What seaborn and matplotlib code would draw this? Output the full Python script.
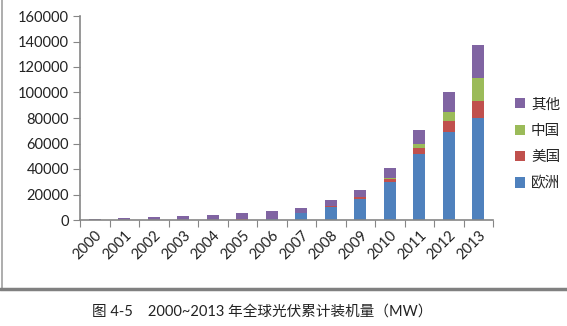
import numpy as np
import pandas as pd
import matplotlib
matplotlib.use("Agg")
import matplotlib.pyplot as plt
import seaborn as sns
from matplotlib.lines import Line2D
from matplotlib.patches import Patch

years = ["2000", "2001", "2002", "2003", "2004", "2005", "2006",
         "2007", "2008", "2009", "2010", "2011", "2012", "2013"]
europe = [0, 0, 0, 0, 0, 300, 400, 5200, 10400, 16800, 30000, 51700, 69000, 80000]
usa = [0, 0, 0, 0, 0, 100, 100, 500, 800, 1200, 2500, 4700, 8600, 13400]
china = [0, 0, 0, 0, 0, 50, 100, 100, 150, 300, 800, 3100, 6800, 18000]
other = [1000, 1300, 2300, 3100, 3900, 5050, 6400, 3600, 4300, 5200, 7200, 11000, 15600, 25500]

series_names = ["欧洲", "美国", "中国", "其他"]
series_vals = [europe, usa, china, other]
colors = ["#4F81BD", "#C0504D", "#9BBB59", "#8064A2"]
y_ticks = [0, 20000, 40000, 60000, 80000, 100000, 120000, 140000, 160000]
caption = "图 4-5    2000~2013 年全球光伏累计装机量（MW）"

sns.set_theme(style="white")
plt.rcParams["font.family"] = ["Lato", "Noto Sans CJK SC", "DejaVu Sans"]

fig = plt.figure(figsize=(5.67, 3.26), dpi=100)
ax = fig.add_axes([80 / 567, 1 - 220 / 326, 413 / 567, 204 / 326])

cum = np.cumsum(np.array(series_vals, dtype=float), axis=0)
df = pd.DataFrame({"year": years})
for i in range(len(series_names) - 1, -1, -1):
    df["v"] = cum[i]
    sns.barplot(data=df, x="year", y="v", color=colors[i], width=0.4,
                saturation=1, ax=ax, edgecolor="none", linewidth=0)

ax.set_xlim(-0.5, len(years) - 0.5)
ax.set_ylim(0, 160000)
ax.set_yticks(y_ticks)
ax.set_yticklabels([str(t) for t in y_ticks], fontsize=10.5, color="#222222")
ax.set_xlabel("")
ax.set_ylabel("")
ax.set_xticks(range(len(years)))
ax.set_xticklabels(years, rotation=45, ha="right", rotation_mode="anchor",
                   fontsize=10.5, color="#222222")
ax.set_xticks(np.arange(-0.5, len(years)), minor=True)
ax.tick_params(axis="x", which="major", length=0, pad=6)
ax.tick_params(axis="x", which="minor", length=5, width=0.8, color="#868686", direction="out", bottom=True)
ax.tick_params(axis="y", which="major", length=5, width=0.8, color="#868686", direction="out", left=True, pad=3)
for s in ["top", "right"]:
    ax.spines[s].set_visible(False)
for s in ["left", "bottom"]:
    ax.spines[s].set_color("#868686")
    ax.spines[s].set_linewidth(1.2)

handles = [Patch(facecolor=colors[i], edgecolor="none") for i in range(len(series_names) - 1, -1, -1)]
labels = [series_names[i] for i in range(len(series_names) - 1, -1, -1)]
fig.legend(handles, labels, loc="center left", bbox_to_anchor=(515 / 567, 1 - 144 / 326),
           frameon=False, handlelength=0.7, handleheight=0.7, borderaxespad=0, borderpad=0,
           handletextpad=0.4, labelspacing=0.85, prop={"family": ["Noto Sans CJK SC"], "size": 10.5})

# frame lines
fig.add_artist(Line2D([1.5 / 567, 1.5 / 567], [1 - 289 / 326, 1.0], transform=fig.transFigure,
                      color="#A0A0A0", lw=1.2))
fig.add_artist(Line2D([0, 1], [1 - 289 / 326, 1 - 289 / 326], transform=fig.transFigure,
                      color="#808080", lw=2.5))

fig.text(262 / 567, 1 - 312 / 326, caption, ha="center", va="center", fontsize=10.5,
         color="#222222", family=["Lato", "Noto Sans CJK SC"])

fig.savefig("out.png", dpi=100, facecolor="white")
